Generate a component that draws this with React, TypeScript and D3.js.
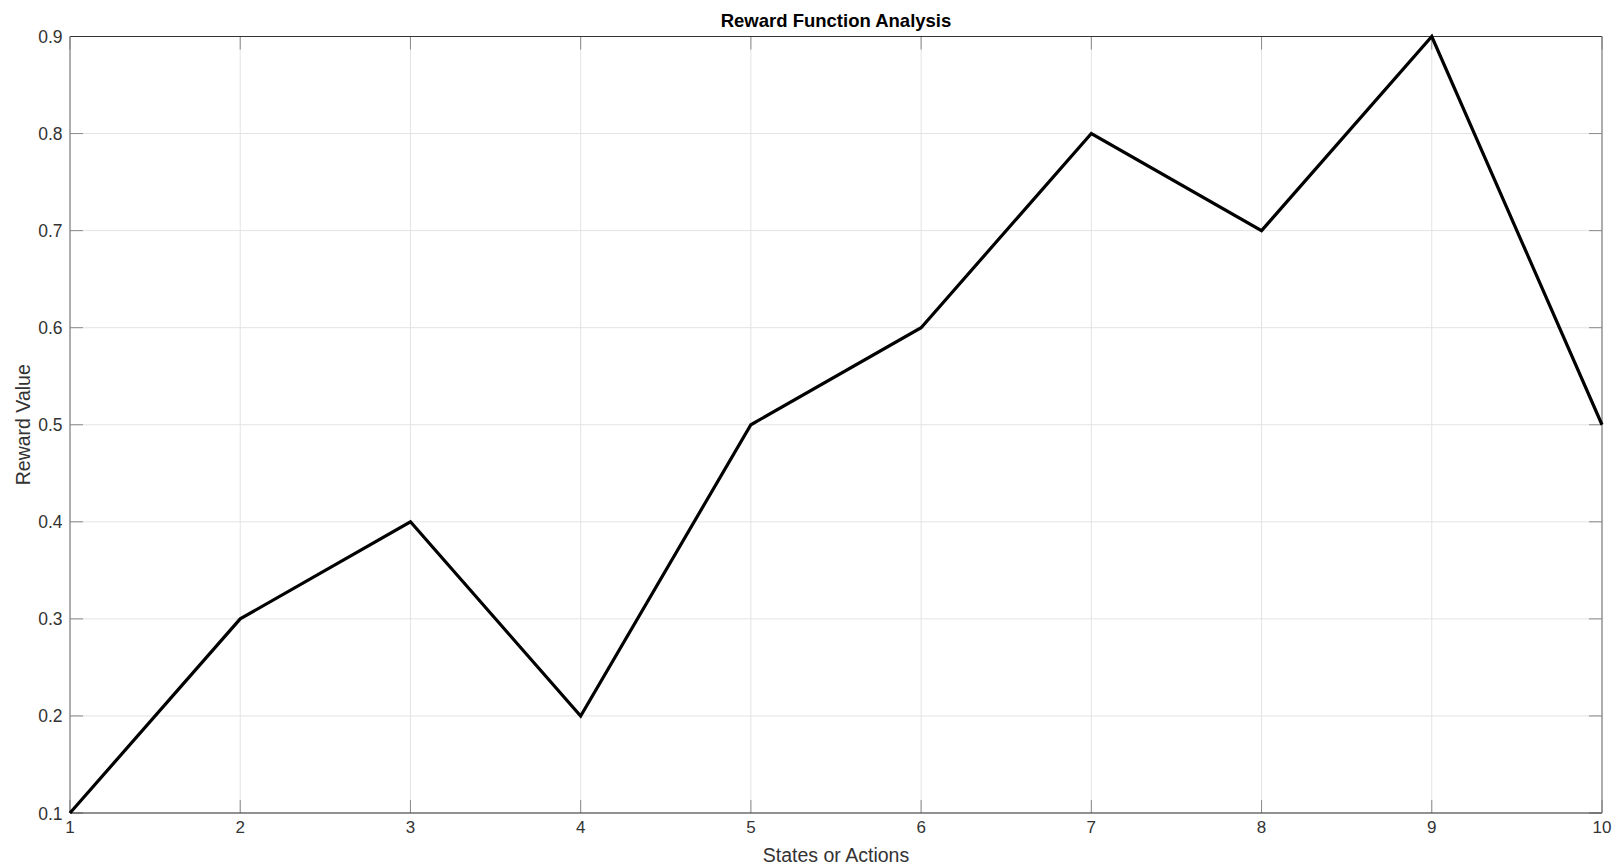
import React from "react";
import * as d3 from "d3";

const states = [1, 2, 3, 4, 5, 6, 7, 8, 9, 10];
const rewards = [0.1, 0.3, 0.4, 0.2, 0.5, 0.6, 0.8, 0.7, 0.9, 0.5];
const yTicks = [0.1, 0.2, 0.3, 0.4, 0.5, 0.6, 0.7, 0.8, 0.9];
const xTicks = [1, 2, 3, 4, 5, 6, 7, 8, 9, 10];

export default function App() {
  const W = 1613, H = 865;
  const L = 70, R = 1602, T = 36.5, B = 813;
  const x = d3.scaleLinear().domain([1, 10]).range([L, R]);
  const y = d3.scaleLinear().domain([0.1, 0.9]).range([B, T]);
  const line = d3.line<number>().x((_, i) => x(states[i])).y((d) => y(d));
  const font = "'Liberation Sans', Arial, Helvetica, sans-serif";
  return (
    <svg width={W} height={H} style={{ position: "absolute", left: 0, top: 0, background: "#fff" }}>
      <rect x={0} y={0} width={W} height={H} fill="#fff" />
      {xTicks.map((t) => (
        <line key={"gx" + t} x1={x(t)} x2={x(t)} y1={T} y2={B} stroke="#e3e3e3" strokeWidth={1} />
      ))}
      {yTicks.map((t) => (
        <line key={"gy" + t} x1={L} x2={R} y1={y(t)} y2={y(t)} stroke="#e3e3e3" strokeWidth={1} />
      ))}
      {xTicks.map((t) => (
        <g key={"tx" + t}>
          <line x1={x(t)} x2={x(t)} y1={B} y2={B - 13} stroke="#8a8a8a" />
          <line x1={x(t)} x2={x(t)} y1={T} y2={T + 13} stroke="#8a8a8a" />
          <text x={x(t)} y={833} textAnchor="middle" fontFamily={font} fontSize={17} fill="#333">{t}</text>
        </g>
      ))}
      {yTicks.map((t) => (
        <g key={"ty" + t}>
          <line x1={L} x2={L + 13} y1={y(t)} y2={y(t)} stroke="#8a8a8a" />
          <line x1={R} x2={R - 13} y1={y(t)} y2={y(t)} stroke="#8a8a8a" />
          <text x={62.5} y={y(t) + 6.5} textAnchor="end" fontFamily={font} fontSize={17.5} fill="#333">{t.toFixed(1)}</text>
        </g>
      ))}
      <line x1={L} x2={R} y1={T} y2={T} stroke="#333" strokeWidth={1.2} />
      <line x1={L} x2={R} y1={B} y2={B} stroke="#333" strokeWidth={1.2} />
      <line x1={L} x2={L} y1={T} y2={B} stroke="#808080" strokeWidth={1.2} />
      <line x1={R} x2={R} y1={T} y2={B} stroke="#808080" strokeWidth={1.2} />
      <path d={line(rewards) || ""} fill="none" stroke="#000" strokeWidth={3.2} strokeLinejoin="miter" />
      <text x={(L + R) / 2} y={27} textAnchor="middle" fontFamily={font} fontSize={18.5} fontWeight="bold" fill="#000">Reward Function Analysis</text>
      <text x={(L + R) / 2} y={862} textAnchor="middle" fontFamily={font} fontSize={19.5} fill="#333">States or Actions</text>
      <text transform={`translate(30, ${(T + B) / 2}) rotate(-90)`} textAnchor="middle" fontFamily={font} fontSize={19.5} fill="#333">Reward Value</text>
    </svg>
  );
}
